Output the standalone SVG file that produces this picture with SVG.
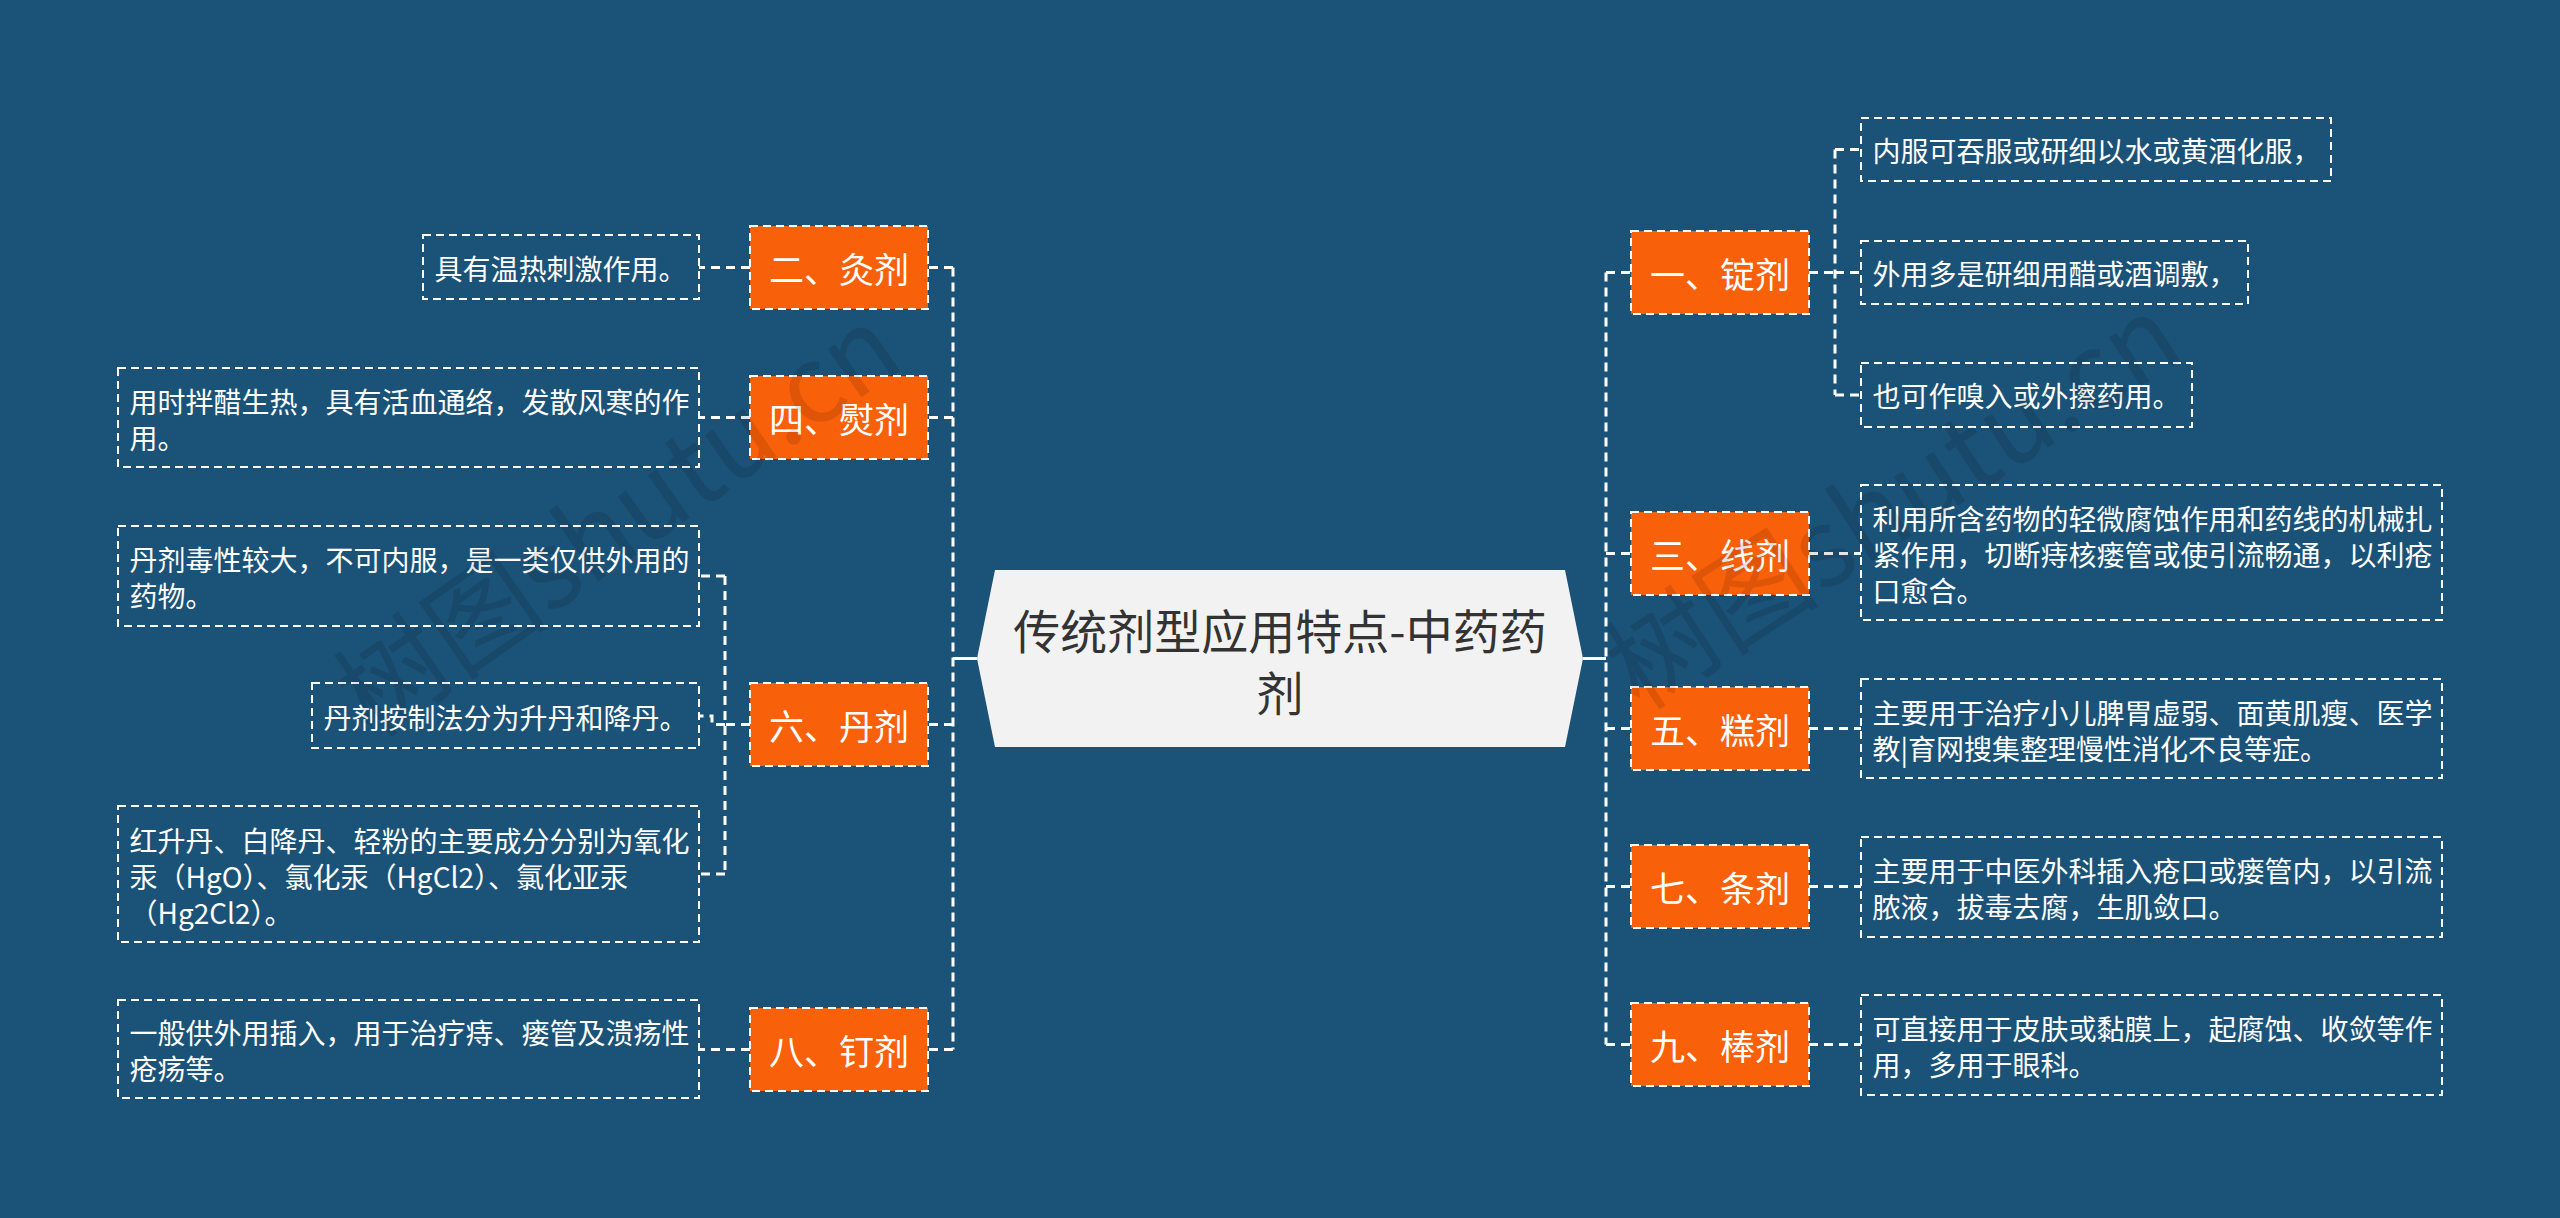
<svg xmlns="http://www.w3.org/2000/svg" width="2560" height="1218" viewBox="0 0 2560 1218">
<style>
.bg{fill:#1b5277}
.cat rect{fill:#f9600a;stroke:#ffffff;stroke-width:2;stroke-dasharray:8 5}
.cat text{fill:#ffffff;font-family:'Noto Sans CJK SC','Noto Sans',sans-serif;font-size:35px;text-anchor:middle;dominant-baseline:central}
.leaf rect{fill:none;stroke:#ffffff;stroke-width:2;stroke-dasharray:8 5}
.leaf text{fill:#ffffff;font-family:'Noto Sans CJK SC','Noto Sans',sans-serif;font-size:28px;dominant-baseline:central}
.dash{fill:none;stroke:#ffffff;stroke-width:3;stroke-dasharray:9 6}
.solid{fill:none;stroke:#ffffff;stroke-width:3}
.wm{fill:#000000;opacity:0.1;font-family:'Noto Sans CJK SC','Noto Sans',sans-serif;font-size:108px}
</style>
<rect class="bg" x="0" y="0" width="2560" height="1218"/>

<g id="connectors">
  <path class="solid" d="M953,658.5 H977"/>
  <path class="solid" d="M1583,658.5 H1606"/>
  <path class="dash" d="M953,267.5 V1049.5"/>
  <path class="dash" d="M1606,272.5 V1044.5"/>
  <path class="dash" d="M953,267.5 H928"/>
  <path class="dash" d="M953,417.5 H928"/>
  <path class="dash" d="M953,724.5 H928"/>
  <path class="dash" d="M953,1049.5 H928"/>
  <path class="dash" d="M1606,272.5 H1631"/>
  <path class="dash" d="M1606,553.5 H1631"/>
  <path class="dash" d="M1606,728.5 H1631"/>
  <path class="dash" d="M1606,886.5 H1631"/>
  <path class="dash" d="M1606,1044.5 H1631"/>
  <path class="dash" d="M750,267.5 H699"/>
  <path class="dash" d="M750,417.5 H699"/>
  <path class="dash" d="M750,1049.5 H699"/>
  <path class="dash" d="M750,724.5 H725"/>
  <path class="dash" d="M725,576 V874"/>
  <path class="dash" d="M725,576 H699"/>
  <path class="dash" d="M725,874 H699"/>
  <path class="dash" d="M725,724.5 H712 V716 H699"/>
  <path class="dash" d="M1809,272.5 H1835"/>
  <path class="dash" d="M1835,149.5 V395"/>
  <path class="dash" d="M1835,149.5 H1861"/>
  <path class="dash" d="M1835,272.5 H1861"/>
  <path class="dash" d="M1835,395 H1861"/>
  <path class="dash" d="M1809,553.5 H1861"/>
  <path class="dash" d="M1809,728.5 H1861"/>
  <path class="dash" d="M1809,886.5 H1861"/>
  <path class="dash" d="M1809,1044.5 H1861"/>
</g>

<g id="root">
  <polygon points="995,570 1565,570 1583,658.5 1565,747 995,747 977,658.5" fill="#f2f2f2"/>
  <text x="1280" y="628" fill="#333333" font-family="'Noto Sans CJK SC','Noto Sans',sans-serif" font-size="47" text-anchor="middle" dominant-baseline="central">传统剂型应用特点-中药药</text>
  <text x="1280" y="690" fill="#333333" font-family="'Noto Sans CJK SC','Noto Sans',sans-serif" font-size="47" text-anchor="middle" dominant-baseline="central">剂</text>
</g>

<g id="n1" class="cat"><rect x="1631" y="231" width="178" height="83"/><text x="1720" y="272.5">一、锭剂</text></g>
<g id="n1a" class="leaf"><rect x="1861" y="118" width="470" height="63"/><text x="1872.5" y="149.5">内服可吞服或研细以水或黄酒化服，</text></g>
<g id="n1b" class="leaf"><rect x="1861" y="241" width="387" height="63"/><text x="1872.5" y="272.5">外用多是研细用醋或酒调敷，</text></g>
<g id="n1c" class="leaf"><rect x="1861" y="363" width="331" height="64"/><text x="1872.5" y="395">也可作嗅入或外擦药用。</text></g>

<g id="n3" class="cat"><rect x="1631" y="512" width="178" height="83"/><text x="1720" y="553.5">三、线剂</text></g>
<g id="n3a" class="leaf"><rect x="1861" y="485" width="581" height="135"/><text x="1872.5" y="518">利用所含药物的轻微腐蚀作用和药线的机械扎</text><text x="1872.5" y="554">紧作用，切断痔核瘘管或使引流畅通，以利疮</text><text x="1872.5" y="590">口愈合。</text></g>

<g id="n5" class="cat"><rect x="1631" y="687" width="178" height="83"/><text x="1720" y="728.5">五、糕剂</text></g>
<g id="n5a" class="leaf"><rect x="1861" y="679" width="581" height="99"/><text x="1872.5" y="712">主要用于治疗小儿脾胃虚弱、面黄肌瘦、医学</text><text x="1872.5" y="748">教|育网搜集整理慢性消化不良等症。</text></g>

<g id="n7" class="cat"><rect x="1631" y="845" width="178" height="83"/><text x="1720" y="886.5">七、条剂</text></g>
<g id="n7a" class="leaf"><rect x="1861" y="837" width="581" height="100"/><text x="1872.5" y="870">主要用于中医外科插入疮口或瘘管内，以引流</text><text x="1872.5" y="906">脓液，拔毒去腐，生肌敛口。</text></g>

<g id="n9" class="cat"><rect x="1631" y="1003" width="178" height="83"/><text x="1720" y="1044.5">九、棒剂</text></g>
<g id="n9a" class="leaf"><rect x="1861" y="995" width="581" height="100"/><text x="1872.5" y="1028">可直接用于皮肤或黏膜上，起腐蚀、收敛等作</text><text x="1872.5" y="1064">用，多用于眼科。</text></g>

<g id="n2" class="cat"><rect x="750" y="226" width="178" height="83"/><text x="839" y="267.5">二、灸剂</text></g>
<g id="n2a" class="leaf"><rect x="423" y="235" width="276" height="64"/><text x="434.5" y="268">具有温热刺激作用。</text></g>

<g id="n4" class="cat"><rect x="750" y="376" width="178" height="83"/><text x="839" y="417.5">四、熨剂</text></g>
<g id="n4a" class="leaf"><rect x="118" y="368" width="581" height="99"/><text x="129.5" y="401">用时拌醋生热，具有活血通络，发散风寒的作</text><text x="129.5" y="437">用。</text></g>

<g id="n6" class="cat"><rect x="750" y="683" width="178" height="83"/><text x="839" y="724.5">六、丹剂</text></g>
<g id="n6a" class="leaf"><rect x="118" y="526" width="581" height="100"/><text x="129.5" y="559">丹剂毒性较大，不可内服，是一类仅供外用的</text><text x="129.5" y="595">药物。</text></g>
<g id="n6b" class="leaf"><rect x="312" y="683" width="387" height="65"/><text x="323.5" y="716.5">丹剂按制法分为升丹和降丹。</text></g>
<g id="n6c" class="leaf"><rect x="118" y="806" width="581" height="136"/><text x="129.5" y="840">红升丹、白降丹、轻粉的主要成分分别为氧化</text><text x="129.5" y="876">汞（HgO）、氯化汞（HgCl2）、氯化亚汞</text><text x="129.5" y="912">（Hg2Cl2）。</text></g>

<g id="n8" class="cat"><rect x="750" y="1008" width="178" height="83"/><text x="839" y="1049.5">八、钉剂</text></g>
<g id="n8a" class="leaf"><rect x="118" y="1000" width="581" height="98"/><text x="129.5" y="1032">一般供外用插入，用于治疗痔、瘘管及溃疡性</text><text x="129.5" y="1068">疮疡等。</text></g>

<text class="wm" transform="translate(372,740) rotate(-35)">树图shutu.cn</text>
<text class="wm" transform="translate(1640,712) rotate(-33)">树图shutu.cn</text>
</svg>
